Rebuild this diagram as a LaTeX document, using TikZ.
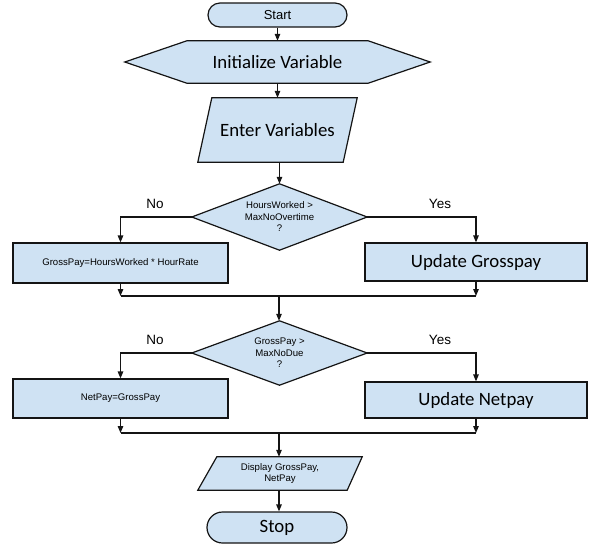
\documentclass[tikz,border=0pt]{standalone}
\usepackage{fontspec}
\newfontfamily\arialfont{Liberation Sans}
\newfontfamily\calibrifont{Carlito}
\usetikzlibrary{arrows.meta,shapes.misc,backgrounds}
\definecolor{boxfill}{RGB}{207,226,243}
\definecolor{edge}{RGB}{20,20,20}
\tikzset{
  shapefill/.style={fill=boxfill,draw=edge,line width=1.2pt,line join=miter},
  holder/.style={draw=none,inner sep=0pt,align=center},
  rectbox/.style={shapefill,inner sep=0pt,align=center},
  conn/.style={draw=edge,line width=1.2pt},
  arr/.style={conn,-{Triangle[length=7pt,width=5.5pt]}},
  big/.style={font=\calibrifont\fontsize{18.8}{21}\selectfont},
  small/.style={font=\arialfont\fontsize{9.6}{11.5}\selectfont},
  lbl/.style={font=\arialfont\fontsize{13.5}{16}\selectfont,inner sep=0pt}
}
\begin{document}
\begin{tikzpicture}[x=1pt,y=-1pt]
\useasboundingbox (0,0) rectangle (598,550);
% Start
\node[shape=rounded rectangle,shapefill,minimum width=139pt,minimum height=24pt,inner sep=0pt,
  font=\arialfont\fontsize{13}{15}\selectfont] (start) at (277.5,15) {Start};
% Initialize (hexagon)
\node[holder,big,minimum width=305pt,minimum height=42pt] (init) at (277.5,62) {Initialize Variable};
% Enter (parallelogram)
\node[holder,big,minimum width=159pt,minimum height=64pt] (enter) at (277.5,130) {Enter Variables};
% Decision 1
\node[holder,small,minimum width=175pt,minimum height=66pt] (d1) at (279.5,217) {HoursWorked >\\MaxNoOvertime\\?};
% boxes row 1
\node[rectbox,small,minimum width=215pt,minimum height=40pt] (lb1) at (120.5,263) {GrossPay=HoursWorked * HourRate};
\node[rectbox,big,minimum width=222pt,minimum height=38pt] (rb1) at (476,262) {Update Grosspay};
\coordinate (m1) at (279,296);
% Decision 2
\node[holder,small,minimum width=175pt,minimum height=64pt] (d2) at (279.5,353) {GrossPay >\\MaxNoDue\\?};
\node[rectbox,small,minimum width=215pt,minimum height=39pt] (lb2) at (120.5,398.5) {NetPay=GrossPay};
\node[rectbox,big,minimum width=222pt,minimum height=36pt] (rb2) at (476,400) {Update Netpay};
\coordinate (m2) at (279,433);
% Display (parallelogram)
\node[holder,small,minimum width=164pt,minimum height=33pt] (disp) at (280,473.5) {Display GrossPay,\\NetPay};
% Stop
\node[shape=rounded rectangle,shapefill,big,minimum width=140pt,minimum height=31pt,inner sep=0pt] (stop) at (277,527.5) {Stop};

\begin{scope}[on background layer]
\filldraw[shapefill] (init.west) -- ([xshift=62pt]init.north west) -- ([xshift=-62pt]init.north east)
  -- (init.east) -- ([xshift=-62pt]init.south east) -- ([xshift=62pt]init.south west) -- cycle;
\filldraw[shapefill] ([xshift=14pt]enter.north west) -- (enter.north east) -- ([xshift=-14pt]enter.south east)
  -- (enter.south west) -- cycle;
\filldraw[shapefill] (d1.north) -- (d1.east) -- (d1.south) -- (d1.west) -- cycle;
\filldraw[shapefill] (d2.north) -- (d2.east) -- (d2.south) -- (d2.west) -- cycle;
\filldraw[shapefill] ([xshift=19pt]disp.north west) -- (disp.north east) -- ([xshift=-15pt]disp.south east)
  -- (disp.south west) -- cycle;
\end{scope}

% connectors
\draw[arr] (start.south) -- (start.south |- init.north);
\draw[arr] (init.south) -- (init.south |- enter.north);
\draw[arr] (enter.south) -- (enter.south -| d1.north) -- (d1.north);
\draw[arr] (d1.west) -| (lb1.north);
\draw[arr] (d1.east) -| (rb1.north);
\node[lbl] (no1) at (155,204) {No};
\node[lbl] (yes1) at (440,204) {Yes};
\draw[arr] (lb1.south) -- (lb1.south |- m1);
\draw[arr] (rb1.south) -- (rb1.south |- m1);
\draw[conn] (lb1.south |- m1) -- (rb1.south |- m1);
\draw[arr] (m1) -- (m1 |- d2.north);
\draw[arr] (d2.west) -| (lb2.north);
\draw[arr] (d2.east) -| (rb2.north);
\node[lbl] (no2) at (155,340) {No};
\node[lbl] (yes2) at (440,340) {Yes};
\draw[arr] (lb2.south) -- (lb2.south |- m2);
\draw[arr] (rb2.south) -- (rb2.south |- m2);
\draw[conn] (lb2.south |- m2) -- (rb2.south |- m2);
\draw[arr] (m2) -- (m2 |- disp.north);
\draw[arr] (m2 |- disp.south) -- (m2 |- stop.north);
\end{tikzpicture}
\end{document}
